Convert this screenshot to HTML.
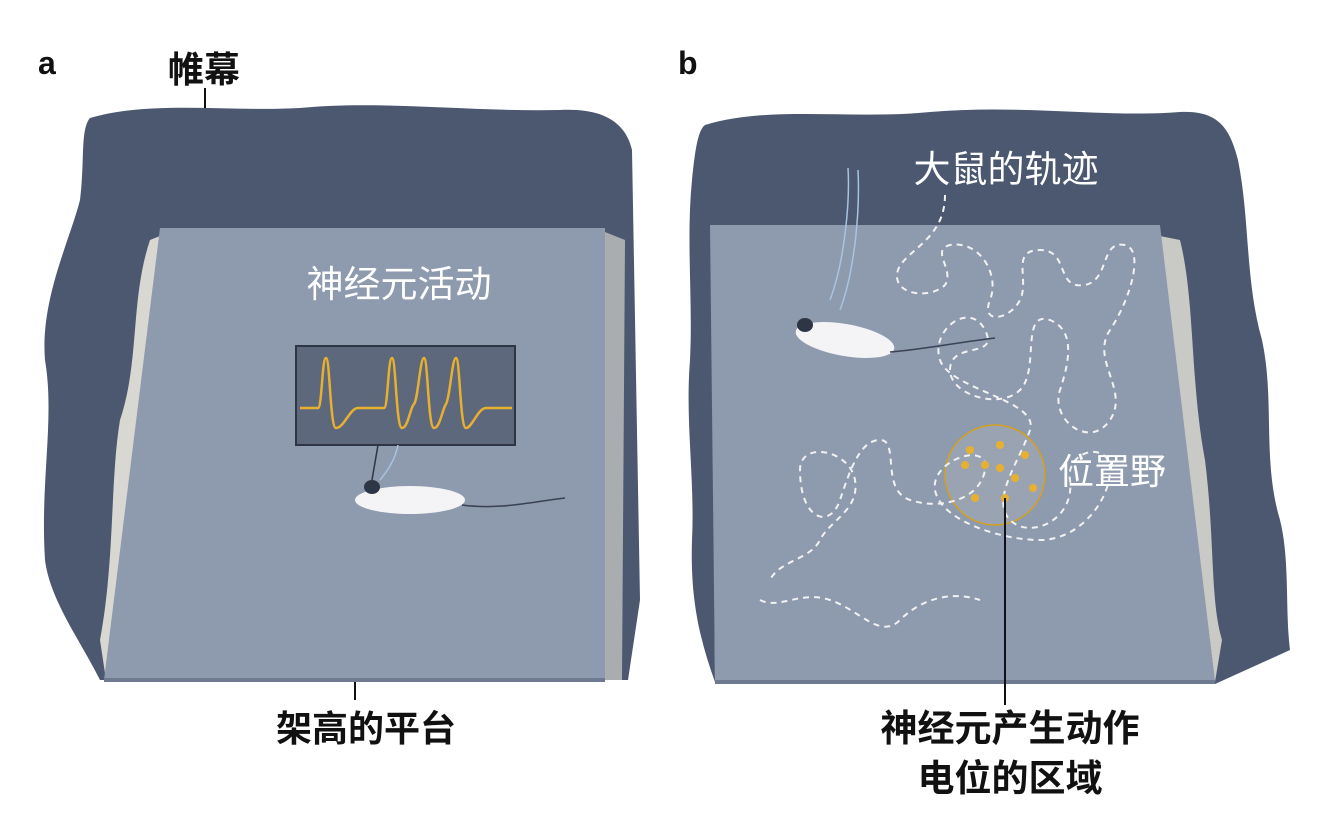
<!DOCTYPE html>
<html><head><meta charset="utf-8"><style>
html,body{margin:0;padding:0;background:#fff;}
svg{display:block;}
text{font-family:"Liberation Sans","Noto Sans CJK SC",sans-serif;}
</style></head><body>
<svg width="1319" height="820" viewBox="0 0 1319 820" xmlns="http://www.w3.org/2000/svg">
<rect width="1319" height="820" fill="#fff"/>
<!-- Panel a -->
<path d="M90,118 C150,100 230,112 300,108 C380,100 470,112 560,110 C600,108 625,120 632,150 L640,600 L628,680 L605,680 L605,240 L160,240 L108,680 L100,680 C80,640 50,600 45,560 C40,480 55,420 45,360 C40,300 70,240 80,200 C85,160 80,130 90,118 Z" fill="#4b586f"/>
<path d="M160,236 L150,240 C130,300 140,360 120,420 C110,480 115,560 100,640 L106,680 L160,236Z" fill="#e9e6dc" opacity="0.9"/>
<path d="M605,232 L625,240 L622,680 L605,680Z" fill="#e9e6dc" opacity="0.6"/>
<path d="M160,228 L605,228 L605,680 L104,680 Z" fill="#8e9aae"/>
<rect x="104" y="678" width="501" height="4" fill="#6d7a90"/>
<rect x="296" y="346" width="219" height="99" fill="#5d687c" stroke="#2e3545" stroke-width="2"/>
<path d="M300,408 L318,408 C322,408 322,358 326,358 C330,358 330,428 336,428 C344,428 350,408 358,408 L384,408 C388,408 388,358 392,358 C396,358 396,428 402,428 C408,428 410,408 414,404 C418,400 420,358 424,358 C428,358 428,428 434,428 C440,428 442,410 446,404 C450,398 452,358 456,358 C460,358 460,428 466,428 C472,428 478,408 486,408 L512,408" fill="none" stroke="#e8b030" stroke-width="2.5"/>
<line x1="378" y1="445" x2="372" y2="480" stroke="#2e3545" stroke-width="1.5"/>
<path d="M398,445 C395,460 388,470 380,480" fill="none" stroke="#a8c4e0" stroke-width="1.5"/>
<ellipse cx="410" cy="500" rx="55" ry="14" fill="#f4f4f6"/>
<ellipse cx="372" cy="487" rx="8" ry="7" fill="#2e3545"/>
<path d="M462,505 C500,510 530,502 565,498" fill="none" stroke="#3a4254" stroke-width="1.5"/>
<text x="38" y="74" font-family="Liberation Serif,serif" font-weight="bold" font-size="32" fill="#111">a</text>
<text x="168" y="82" font-size="36" font-weight="bold" fill="#111">帷幕</text>
<line x1="205" y1="88" x2="205" y2="108" stroke="#111" stroke-width="2"/>
<text x="399" y="297" font-size="37" fill="#fff" text-anchor="middle">神经元活动</text>
<line x1="355" y1="682" x2="355" y2="700" stroke="#111" stroke-width="2"/>
<text x="366" y="741" font-size="36" font-weight="bold" fill="#111" text-anchor="middle">架高的平台</text>
<!-- Panel b -->
<path d="M705,125 C770,105 850,120 930,112 C1020,104 1110,118 1180,112 C1220,110 1230,130 1238,160 C1250,220 1245,280 1262,340 C1275,400 1262,460 1280,520 C1290,560 1285,610 1290,650 L1215,684 L1160,236 L712,236 L715,682 C700,640 690,600 692,540 C695,480 685,420 690,360 C693,300 686,240 692,180 C695,150 698,130 705,125Z" fill="#4b586f"/>
<path d="M1160,236 L1180,240 C1195,300 1190,380 1205,460 C1215,540 1210,600 1222,640 L1215,682Z" fill="#e9e6dc" opacity="0.8"/>
<path d="M710,225 L1160,225 L1215,682 L715,682 Z" fill="#8e9aae"/>
<rect x="715" y="680" width="500" height="4" fill="#6d7a90"/>
<circle cx="995" cy="475" r="50" fill="#9aa3b2" stroke="#d4a020" stroke-width="1.5"/>
<g fill="none" stroke="#f2f2f2" stroke-width="2" stroke-dasharray="6,5">
<path d="M945,195 C945,240 905,250 898,270 C890,295 930,300 945,285 C955,270 930,250 950,245 C980,240 1000,275 990,300 C980,325 1010,320 1020,300 C1030,280 1010,250 1040,250 C1070,250 1055,290 1085,285 C1110,280 1100,240 1125,245 C1145,250 1130,300 1110,330 C1090,360 1130,390 1110,420 C1090,450 1050,420 1060,390 C1070,360 1075,330 1050,320 C1020,310 1040,370 1020,390 C1000,410 950,395 950,370 C950,340 1000,360 985,330 C970,300 930,330 940,360 C950,390 1040,400 1030,430 C1020,460 990,500 1010,520 C1030,540 1075,520 1070,480 C1065,450 1110,440 1110,470 C1110,500 1080,540 1040,540 C1000,540 940,520 935,490 C930,460 990,440 985,470 C980,500 940,510 910,500 C880,490 900,440 880,440 C860,440 850,470 840,500 C830,530 800,520 800,470 C800,440 850,450 855,480 C860,510 830,520 820,540 C810,560 780,560 770,580"/>
<path d="M760,600 C780,610 800,590 830,600 C860,610 880,640 900,620 C920,600 950,590 980,600"/>
</g>
<g fill="#e8b030">
<circle cx="970" cy="450" r="4"/><circle cx="1000" cy="445" r="4"/><circle cx="1025" cy="455" r="4"/>
<circle cx="985" cy="465" r="4"/><circle cx="1000" cy="468" r="4"/><circle cx="965" cy="465" r="4"/>
<circle cx="1015" cy="478" r="4"/><circle cx="1033" cy="488" r="4"/><circle cx="975" cy="498" r="4"/><circle cx="1005" cy="498" r="4"/>
</g>
<path d="M848,168 C850,200 845,260 830,300 M858,170 C860,210 855,270 840,310" fill="none" stroke="#a8c4e0" stroke-width="1.5"/>
<ellipse cx="845" cy="340" rx="50" ry="16" fill="#f4f4f6" transform="rotate(10 845 340)"/>
<ellipse cx="805" cy="325" rx="8" ry="7" fill="#2e3545"/>
<path d="M890,352 C920,350 960,342 995,338" fill="none" stroke="#3a4254" stroke-width="1.5"/>
<text x="678" y="74" font-family="Liberation Serif,serif" font-weight="bold" font-size="32" fill="#111">b</text>
<text x="1006" y="182" font-size="37" fill="#fff" text-anchor="middle">大鼠的轨迹</text>
<text x="1112" y="484" font-size="36" fill="#fff" text-anchor="middle">位置野</text>
<line x1="1005" y1="498" x2="1005" y2="705" stroke="#111" stroke-width="2"/>
<text x="1010" y="741" font-size="37" font-weight="bold" fill="#111" text-anchor="middle">神经元产生动作</text>
<text x="1010" y="791" font-size="37" font-weight="bold" fill="#111" text-anchor="middle">电位的区域</text>
</svg>
</body></html>
